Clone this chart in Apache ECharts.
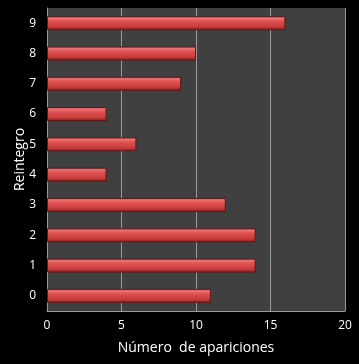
<!DOCTYPE html>
<html><head><meta charset="utf-8">
<script src="https://cdn.jsdelivr.net/npm/echarts@6/dist/echarts.min.js"></script>
<style>html,body{margin:0;padding:0;background:#000;}#c{width:359px;height:364px;}</style>
</head><body><div id="c"></div>
<script>
var categories = ['0','1','2','3','4','5','6','7','8','9'];
var values = [11, 14, 14, 12, 4, 6, 4, 9, 10, 16];
var xTicks = [0, 5, 10, 15, 20];

var chart = echarts.init(document.getElementById('c'), null, {renderer:'canvas'});
chart.setOption({
  backgroundColor: '#000000',
  animation: false,
  grid: {left: 47, right: 14, top: 8, bottom: 53, show: true, backgroundColor: '#404040', borderWidth: 0},
  xAxis: {
    type: 'value', min: 0, max: 20, interval: 5,
    name: 'Número  de apariciones', nameLocation: 'middle', nameGap: 30,
    nameTextStyle: {color: '#ffffff', fontSize: 14, fontFamily: 'Open Sans'},
    axisLine: {show: true, lineStyle: {color: '#999999'}},
    axisTick: {show: false},
    axisLabel: {color: '#ffffff', fontSize: 12, fontFamily: 'Open Sans', margin: 9},
    splitLine: {show: true, lineStyle: {color: '#9a9a9a', width: 1}}
  },
  yAxis: {
    type: 'category', data: categories,
    name: 'Reintegro', nameLocation: 'middle', nameGap: 20, nameMoveOverlap: false,
    nameTextStyle: {color: '#ffffff', fontSize: 14, fontFamily: 'Open Sans'},
    axisLine: {show: true, lineStyle: {color: '#999999'}},
    axisTick: {show: false},
    axisLabel: {color: '#ffffff', fontSize: 12, fontFamily: 'Open Sans', margin: 11},
    splitLine: {show: false}
  },
  series: [{
    type: 'bar', data: values, barWidth: 14,
    itemStyle: {
      color: new echarts.graphic.LinearGradient(0,0,0,1,[
        {offset:0, color:'#c84848'},
        {offset:0.15, color:'#f07070'},
        {offset:0.35, color:'#e05252'},
        {offset:0.75, color:'#c83c3c'},
        {offset:1, color:'#7a2020'}
      ]),
      borderColor: '#5a1a1a', borderWidth: 1
    }
  }]
});
</script></body></html>
